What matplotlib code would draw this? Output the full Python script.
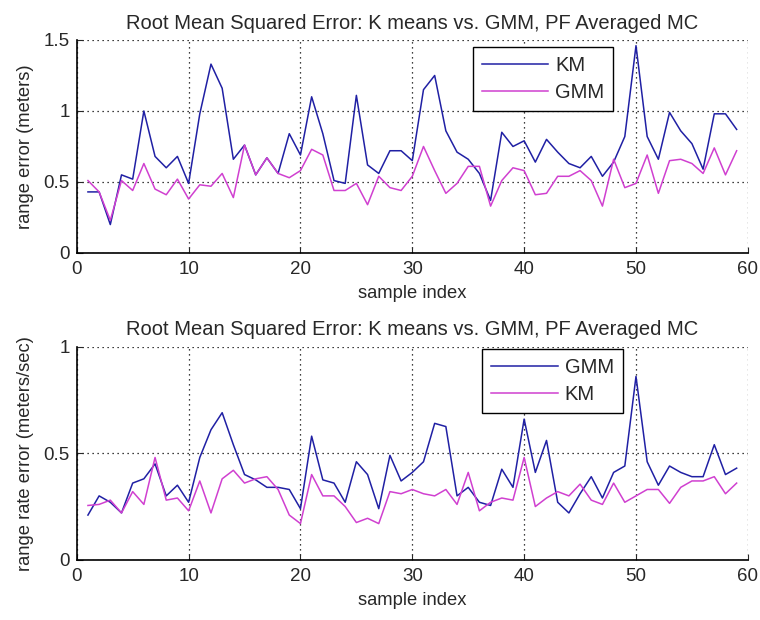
import numpy as np
import matplotlib
matplotlib.use('Agg')
import matplotlib.pyplot as plt

plt.rcParams['font.family'] = ['Liberation Sans', 'DejaVu Sans']
plt.rcParams['text.color'] = '#282828'
plt.rcParams['axes.labelcolor'] = '#282828'

samples = np.arange(1, 60)

# top panel: range error (meters)
km_range = [0.43, 0.43, 0.20, 0.55, 0.52, 1.00, 0.68, 0.60, 0.68, 0.49,
            0.98, 1.33, 1.16, 0.66, 0.76, 0.55, 0.67, 0.56, 0.84, 0.69,
            1.10, 0.84, 0.51, 0.49, 1.11, 0.62, 0.56, 0.72, 0.72, 0.65,
            1.15, 1.25, 0.86, 0.71, 0.66, 0.56, 0.37, 0.85, 0.75, 0.79,
            0.64, 0.80, 0.71, 0.63, 0.60, 0.68, 0.54, 0.64, 0.82, 1.46,
            0.82, 0.66, 0.99, 0.86, 0.77, 0.59, 0.98, 0.98, 0.87]
gmm_range = [0.51, 0.43, 0.23, 0.51, 0.44, 0.63, 0.45, 0.41, 0.52, 0.38,
             0.48, 0.47, 0.56, 0.39, 0.76, 0.55, 0.67, 0.56, 0.53, 0.58,
             0.73, 0.69, 0.44, 0.44, 0.49, 0.34, 0.54, 0.46, 0.44, 0.54,
             0.75, 0.58, 0.42, 0.49, 0.61, 0.61, 0.33, 0.51, 0.60, 0.58,
             0.41, 0.42, 0.54, 0.54, 0.58, 0.51, 0.33, 0.66, 0.46, 0.49,
             0.69, 0.42, 0.65, 0.66, 0.63, 0.56, 0.74, 0.55, 0.72]

# bottom panel: range rate error (meters/sec)
gmm_rate = [0.21, 0.30, 0.27, 0.22, 0.36, 0.38, 0.45, 0.30, 0.35, 0.27,
            0.48, 0.61, 0.69, 0.54, 0.40, 0.375, 0.34, 0.34, 0.33, 0.24,
            0.58, 0.375, 0.36, 0.27, 0.46, 0.40, 0.24, 0.49, 0.37, 0.41,
            0.46, 0.64, 0.625, 0.30, 0.34, 0.27, 0.255, 0.425, 0.34, 0.66,
            0.41, 0.56, 0.27, 0.22, 0.31, 0.39, 0.29, 0.41, 0.44, 0.86,
            0.46, 0.35, 0.44, 0.41, 0.39, 0.39, 0.54, 0.40, 0.43]
km_rate = [0.255, 0.26, 0.28, 0.22, 0.32, 0.26, 0.48, 0.28, 0.29, 0.23,
           0.37, 0.22, 0.38, 0.42, 0.36, 0.38, 0.39, 0.33, 0.21, 0.17,
           0.40, 0.30, 0.30, 0.25, 0.175, 0.195, 0.17, 0.32, 0.31, 0.33,
           0.31, 0.30, 0.33, 0.26, 0.41, 0.23, 0.27, 0.29, 0.28, 0.48,
           0.25, 0.29, 0.32, 0.30, 0.355, 0.28, 0.26, 0.36, 0.27, 0.30,
           0.33, 0.33, 0.265, 0.34, 0.37, 0.37, 0.39, 0.31, 0.36]

title = 'Root Mean Squared Error: K means vs. GMM, PF Averaged MC'
blue = '#2020a4'
magenta = '#d040d0'

fig = plt.figure(figsize=(7.6, 6.2), dpi=100)
ax1 = fig.add_axes([0.101, 0.592, 0.883, 0.3435])
ax2 = fig.add_axes([0.101, 0.097, 0.883, 0.344])


def style(ax, ymax, yticks, ylabel):
    ax.set_xlim(0, 60)
    ax.set_ylim(0, ymax)
    ax.set_xticks([0, 10, 20, 30, 40, 50, 60])
    ax.set_yticks(yticks)
    ax.grid(True, linestyle=(0, (1, 3)), color='black', linewidth=0.9)
    for s in ['top', 'right']:
        ax.spines[s].set_visible(False)
    for s in ['left', 'bottom']:
        ax.spines[s].set_linewidth(1.2)
    ax.tick_params(direction='in', length=4, labelsize=13.5, colors='#282828')
    ax.tick_params(axis='x', pad=6)
    ax.tick_params(axis='y', pad=5)
    ax.set_xlabel('sample index', fontsize=13.2, labelpad=5)
    ax.set_ylabel(ylabel, fontsize=13.2, labelpad=7)
    ax.set_title(title, fontsize=14.5, pad=8)


def legend(ax, x, y):
    leg = ax.legend(loc='upper left', bbox_to_anchor=(x, y), borderaxespad=0,
                    fontsize=14.5, fancybox=False, framealpha=1,
                    edgecolor='black', handlelength=3.3, handletextpad=0.35,
                    borderpad=0.45, labelspacing=0.38)
    leg.get_frame().set_linewidth(1.0)


ax1.plot(samples, km_range, color=blue, lw=1.1, label='KM')
ax1.plot(samples, gmm_range, color=magenta, lw=1.1, label='GMM')
style(ax1, 1.5, [0, 0.5, 1, 1.5], 'range error (meters)')
ax1.set_yticklabels(['0', '0.5', '1', '1.5'])
legend(ax1, 0.590, 0.967)

ax2.plot(samples, gmm_rate, color=blue, lw=1.1, label='GMM')
ax2.plot(samples, km_rate, color=magenta, lw=1.1, label='KM')
style(ax2, 1, [0, 0.5, 1], 'range rate error (meters/sec)')
ax2.set_yticklabels(['0', '0.5', '1'])
legend(ax2, 0.604, 0.989)

fig.savefig('out.png', dpi=100)
